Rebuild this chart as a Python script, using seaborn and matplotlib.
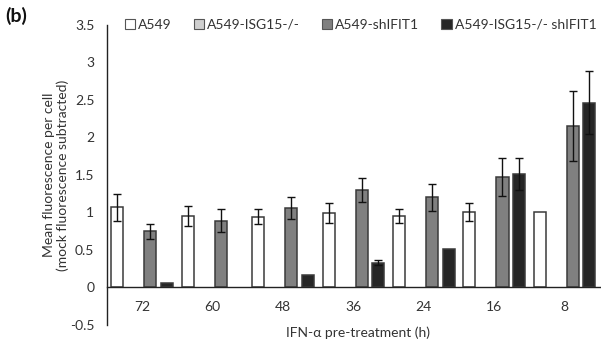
import numpy as np
import pandas as pd
import matplotlib
matplotlib.use("Agg")
import matplotlib.pyplot as plt
import seaborn as sns
from matplotlib.patches import Patch

nan = np.nan
groups = ["72", "60", "48", "36", "24", "16", "8"]
series = ["A549", "A549-ISG15-/-", "A549-shIFIT1", "A549-ISG15-/- shIFIT1"]
a549 = [1.07, 0.95, 0.94, 0.99, 0.95, 1.00, 1.00]
a549_err = [0.18, 0.13, 0.10, 0.13, 0.09, 0.12, 0.0]
isg15 = [nan, nan, nan, nan, nan, nan, nan]
isg15_err = [nan, nan, nan, nan, nan, nan, nan]
shifit1 = [0.75, 0.89, 1.06, 1.30, 1.20, 1.47, 2.15]
shifit1_err = [0.10, 0.15, 0.15, 0.16, 0.18, 0.25, 0.47]
dko = [0.06, nan, 0.17, 0.33, 0.51, 1.51, 2.46]
dko_err = [0.0, nan, 0.0, 0.03, 0.0, 0.21, 0.42]
yticks = [-0.5, 0, 0.5, 1, 1.5, 2, 2.5, 3, 3.5]
ytick_labels = ["-0.5", "0", "0.5", "1", "1.5", "2", "2.5", "3", "3.5"]

colors = ["#ffffff", "#cfcfcf", "#808080", "#262626"]
values = [a549, isg15, shifit1, dko]
errors = [a549_err, isg15_err, shifit1_err, dko_err]

rows = []
for s, vals in zip(series, values):
    for g, v in zip(groups, vals):
        rows.append({"group": g, "series": s, "value": v})
df = pd.DataFrame(rows)

sns.set_style("white")
plt.rcParams["font.family"] = ["Lato", "DejaVu Sans"]

fig = plt.figure(figsize=(6.01, 3.41), dpi=100)
ax = fig.add_axes([0.178, 0.047, 0.820, 0.880])

W = 0.94
sns.barplot(data=df, x="group", y="value", hue="series", order=groups,
            hue_order=series, palette=colors, width=W, gap=0.27,
            edgecolor="#3a3a3a", linewidth=1.1, errorbar=None, ax=ax,
            legend=False)

# error bars
for k, (vals, errs) in enumerate(zip(values, errors)):
    for i in range(len(groups)):
        v, e = vals[i], errs[i]
        if np.isnan(v) or np.isnan(e) or e <= 0:
            continue
        x = i + (k - 1.5) * W / 4
        ax.errorbar(x, v, yerr=e, fmt="none", ecolor="#111111",
                    elinewidth=1.0, capsize=3, capthick=1.0)

ax.set_xlim(-0.5, len(groups) - 0.5)
ax.set_ylim(-0.5, 3.5)
ax.set_yticks(yticks)
ax.set_yticklabels(ytick_labels)

for sp in ["top", "right"]:
    ax.spines[sp].set_visible(False)
ax.spines["bottom"].set_position(("data", 0))
for sp in ["left", "bottom"]:
    ax.spines[sp].set_color("#222222")
    ax.spines[sp].set_linewidth(1.0)

ax.set_xticks(range(len(groups)))
ax.set_xticklabels(groups)
ax.set_xticks(np.arange(-0.5, len(groups), 1.0), minor=True)
ax.tick_params(axis="x", which="major", length=0, pad=10, labelsize=10, colors="#333333")
ax.tick_params(axis="x", which="minor", length=4, width=1, direction="out", color="#222222")
ax.tick_params(axis="y", length=4, width=1, direction="out", labelsize=10, colors="#333333", pad=5)

ax.set_xlabel("")
ax.set_ylabel("Mean fluorescence per cell\n(mock fluorescence subtracted)", fontsize=10,
              color="#333333", labelpad=1, linespacing=1.1)
fig.text(0.595, 0.025, "IFN-α pre-treatment (h)", ha="center", va="center",
         fontsize=10, color="#333333")

fig.text(0.008, 0.952, "(b)", fontsize=14, fontweight="bold", ha="left", va="center",
         color="#111111")

handles = [Patch(facecolor=c, edgecolor="#555555", linewidth=0.8) for c in colors]
fig.legend(handles, series, loc="center left", bbox_to_anchor=(0.198, 0.927), ncol=4,
           frameon=False, fontsize=10, handlelength=0.75, handleheight=0.75,
           handletextpad=0.2, columnspacing=1.6, borderaxespad=0, labelcolor="#333333")

fig.savefig("out.png", dpi=100)
